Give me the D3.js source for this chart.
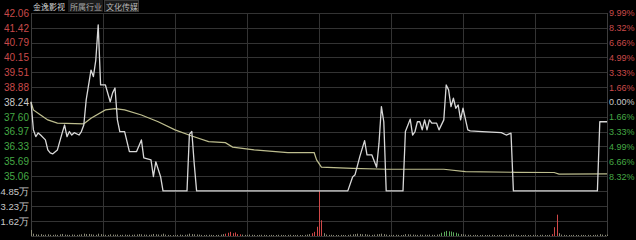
<!DOCTYPE html>
<html><head><meta charset="utf-8">
<script src="https://cdn.jsdelivr.net/npm/d3@7"></script>
<style>
html,body{margin:0;padding:0;background:#000;}
svg{display:block;}
</style></head>
<body>
<script>
// ---- data ----
const stockName = "金逸影视";
const industryLabel = "所属行业";
const industryName = "文化传媒";
const prevClose = 38.24;
const priceTicks = [42.06,41.42,40.79,40.15,39.51,38.88,38.24,37.60,36.97,36.33,35.69,35.06];
const pctTicks = [9.99,8.32,6.66,4.99,3.33,1.66,0,-1.66,-3.33,-4.99,-6.66,-8.32];
const volTicks = [48500,32300,16200];
const volTickLabels = ["4.85万","3.23万","1.62万"];
// price line vertices: minute index (0..240) and price
const priceMinutes = [0,1,2,3,4,6,7,8,9,11,13,14,15,16,17,18,20,21,22,23,25,26,27,28,29,31,33,34,35,36,37,39,41,44,46,47,50,51,52,54,55,
  65,66,67,68,69,132,134,135,137,139,140,142,144,145,146,147,148,155,156,158,159,160,161,162,163,164,165,166,167,169,170,172,173,174,175,176,177,178,179,180,182,183,188,196,198,200,201,236,237,240];
const priceValues = [38.25,37.04,36.75,36.91,36.82,36.61,36.18,36.05,36.01,36.18,36.91,37.25,36.75,36.97,36.82,36.92,36.82,36.97,37.25,38.33,39.61,39.33,40.04,41.55,38.97,38.97,38.25,38.63,38.84,37.47,36.97,36.97,36.11,36.11,36.61,35.84,35.75,35.03,35.67,35.03,34.42,
  34.42,36.85,36.97,35.60,34.42,34.42,35.02,35.11,35.89,36.58,35.97,35.97,35.44,36.47,38.04,37.39,34.42,34.42,36.97,37.50,36.82,36.97,37.39,37.39,37.04,37.47,37.04,37.47,37.33,37.33,37.04,37.47,38.97,38.76,38.04,38.40,37.97,38.11,37.47,37.97,37.04,37.00,36.97,36.92,36.82,36.90,34.42,34.42,37.39,37.39];
// average price line vertices
const avgMinutes = [0,1,4,7,11,22,25,31,35,39,46,53,60,67,74,81,84,93,107,118,119,121,134,148,160,172,181,202,218,220,240];
const avgValues = [38.24,37.90,37.68,37.47,37.33,37.30,37.54,37.90,37.95,37.90,37.68,37.39,37.04,36.78,36.54,36.49,36.30,36.18,36.06,36.06,35.75,35.44,35.39,35.35,35.35,35.35,35.25,35.22,35.21,35.14,35.15];
// per-minute volume (shares)
const volumes = [
6500,2500,1800,1500,2000,1200,1500,1800,1300,1200,
1500,1200,1800,2200,1500,1300,1200,1600,1400,1200,
1500,1800,2500,2000,2200,1800,1500,1300,2500,2000,
1500,1300,1200,1800,1500,1400,1600,1200,1300,1500,
1200,1400,1300,1500,1600,2000,1800,1500,1400,1300,
1500,2200,1800,1600,1500,2500,1500,1200,1000,1000,
1000,1200,1500,1200,1300,1500,2500,2000,1800,1600,
1500,1200,1000,1200,1300,1200,1000,1100,1200,1500,
2000,2500,3500,4500,3000,3800,2000,1800,1500,1200,
1200,1500,1300,1200,1000,1200,1300,1200,1100,1000,
1200,1000,1100,1300,1200,1000,1000,1200,1300,1100,
1000,1200,1100,1000,1200,1500,2000,3000,4500,10000,
48500,17000,3000,1500,1200,1300,1000,1100,1000,1200,
1100,1000,1200,1500,1800,2000,2500,2200,1800,2000,
1500,1300,1200,1500,1800,2000,2500,2000,1500,1200,
1000,1200,1300,1200,1000,1200,2000,1800,1600,1500,
1300,1200,1500,1300,1400,1200,1500,1300,1200,1500,
1800,3500,4500,5500,5000,4800,4000,3500,2500,2000,
1800,1500,1300,1200,1000,1200,1100,1000,1200,1100,
1000,1200,1300,1100,1000,1200,1100,1000,1200,1300,
1500,1800,1200,1000,1100,1000,1200,1100,1000,1200,
1100,1000,1200,1300,1100,1000,1200,2000,9500,23000,
3000,1500,1200,1000,1100,1000,1200,1100,1000,1200,
1100,1000,1200,1000,1100,1200,1300,2000,1500,1200,
1500];
const upMinutes = [81,82,83,84,85,86,87,117,118,119,120,121,217,218,219];
const downMinutes = [171,172,173,174,175,176,177,178];

// ---- drawing ----
const W = 636, H = 240;
const svg = d3.select("body").append("svg").attr("width", W).attr("height", H)
  .style("background", "#000");

const x = d3.scaleLinear().domain([0, 240]).range([31, 607]);
const y = d3.scaleLinear().domain([prevClose * 0.9, 42.06]).range([191, 13]);
const yPct = d3.scaleLinear().domain([-9.99, 9.99]).range([191, 13]);
const yVol = d3.scaleLinear().domain([0, 48500]).range([236, 191]);

const gridColor = "#333333";
const g = svg.append("g");

// horizontal grid
const hLines = priceTicks.map(v => y(v)).concat([y(prevClose*0.9)], volTicks.map(v => yVol(v)), [yVol(0)]);
g.selectAll("line.h").data(hLines).join("line")
  .attr("x1", x(0)).attr("x2", x(240))
  .attr("y1", d => Math.round(d) + 0.5).attr("y2", d => Math.round(d) + 0.5)
  .attr("stroke", gridColor).attr("stroke-width", 1);
// vertical grid
g.selectAll("line.v").data(d3.range(0, 241, 30)).join("line")
  .attr("x1", d => Math.round(x(d)) + 0.5).attr("x2", d => Math.round(x(d)) + 0.5)
  .attr("y1", 13).attr("y2", yVol(0))
  .attr("stroke", d => (d === 0 || d === 240) ? "#3c3c3c" : gridColor).attr("stroke-width", 1);

// left price axis
const labelFont = "Liberation Sans, Arial, sans-serif";
const leftAxis = svg.append("g").attr("transform", "translate(30,0)")
  .call(d3.axisLeft(y).tickValues(priceTicks).tickFormat(d3.format(".2f")).tickSize(0).tickPadding(1));
leftAxis.select(".domain").remove();
leftAxis.selectAll("text")
  .attr("font-family", labelFont).attr("font-size", 10)
  .attr("fill", d => d > prevClose + 0.001 ? "#c94a4a" : (d < prevClose - 0.001 ? "#45a845" : "#c8c8c8"));

// volume axis
const volAxis = svg.append("g").attr("transform", "translate(30,0)")
  .call(d3.axisLeft(yVol).tickValues(volTicks).tickFormat((d, i) => volTickLabels[i]).tickSize(0).tickPadding(1));
volAxis.select(".domain").remove();
volAxis.selectAll("text").attr("font-family", labelFont).attr("font-size", 9.5).attr("fill", "#c8c8c8");

// right pct axis
const rightAxis = svg.append("g").attr("transform", "translate(608,0)")
  .call(d3.axisRight(yPct).tickValues(pctTicks).tickFormat(d => Math.abs(d).toFixed(2) + "%").tickSize(0).tickPadding(1));
rightAxis.select(".domain").remove();
rightAxis.selectAll("text")
  .attr("font-family", labelFont).attr("font-size", 9)
  .attr("fill", d => d > 0 ? "#c94a4a" : (d < 0 ? "#45a845" : "#c8c8c8"));

// volume bars
const upSet = new Set(upMinutes), downSet = new Set(downMinutes);
svg.append("g").selectAll("rect").data(volumes).join("rect")
  .attr("x", (d, i) => Math.round(x(i)))
  .attr("width", 1)
  .attr("y", d => yVol(d))
  .attr("height", d => yVol(0) - yVol(d))
  .attr("fill", (d, i) => upSet.has(i) ? "#d04848" : (downSet.has(i) ? "#5aa85a" : "#8a8a76"));

// average line
const avgData = avgMinutes.map((m, i) => [m, avgValues[i]]);
svg.append("path").datum(avgData)
  .attr("d", d3.line().x(d => x(d[0])).y(d => y(d[1])))
  .attr("fill", "none").attr("stroke", "#bdbd8e").attr("stroke-width", 1.2);

// price line
const priceData = priceMinutes.map((m, i) => [m, priceValues[i]]);
svg.append("path").datum(priceData)
  .attr("d", d3.line().x(d => x(d[0])).y(d => y(d[1])))
  .attr("fill", "none").attr("stroke", "#d8d8d8").attr("stroke-width", 1.3)
  .attr("stroke-linejoin", "round");

// title bar
const cjk = "Noto Sans CJK SC, sans-serif";
const title = svg.append("g");
title.append("text").attr("x", 33).attr("y", 9.5).attr("font-family", cjk).attr("font-size", 8)
  .attr("fill", "#d0d0d0").text(stockName);
title.append("rect").attr("x", 68).attr("y", 0).attr("width", 35).attr("height", 12).attr("fill", "#1c1c1c");
title.append("text").attr("x", 70).attr("y", 9.5).attr("font-family", cjk).attr("font-size", 8)
  .attr("fill", "#a8a8a8").text(industryLabel);
title.append("rect").attr("x", 104.5).attr("y", 0.5).attr("width", 34).attr("height", 11).attr("fill", "#1a1a1a").attr("stroke", "#3a3a3a");
title.append("text").attr("x", 106).attr("y", 9.5).attr("font-family", cjk).attr("font-size", 8)
  .attr("fill", "#b8b8b8").text(industryName);
</script>
</body></html>
